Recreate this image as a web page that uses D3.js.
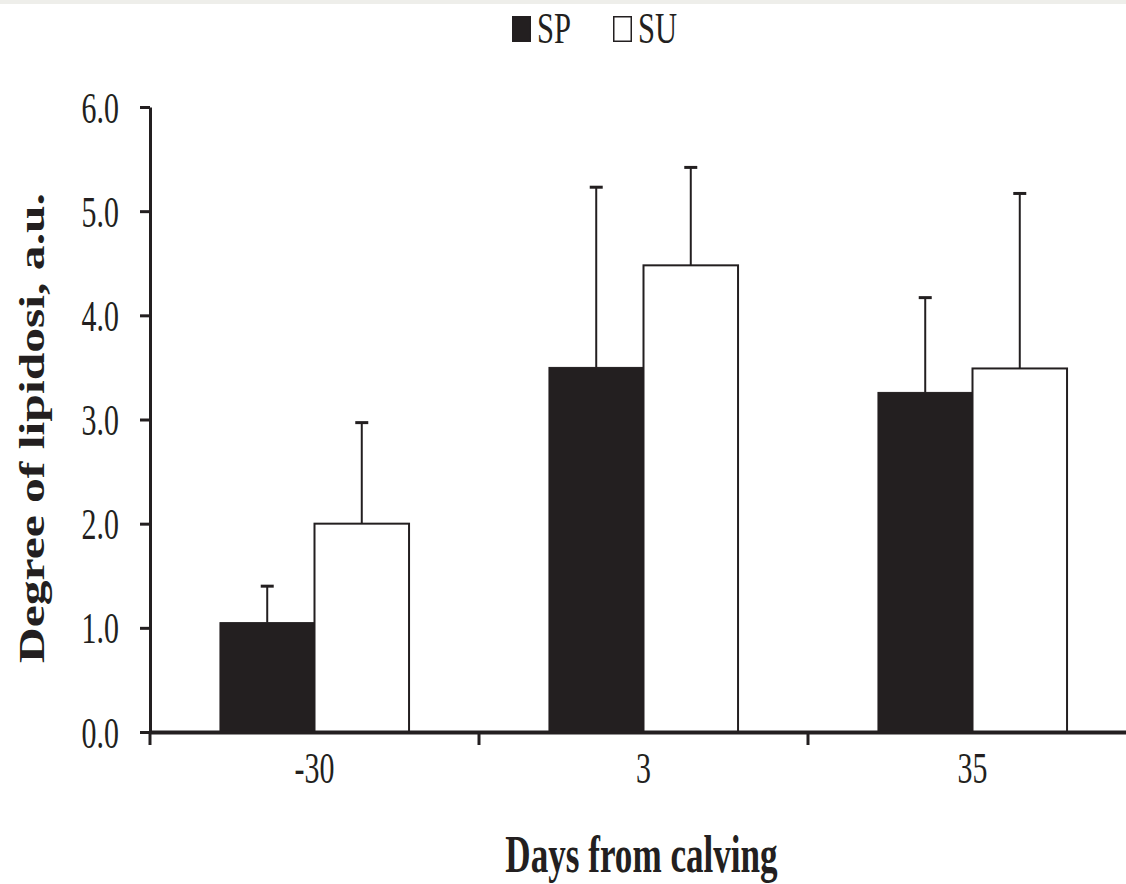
<!DOCTYPE html>
<html>
<head>
<meta charset="utf-8">
<script src="https://cdn.jsdelivr.net/npm/d3@7"></script>
<style>
  body { margin: 0; background: #fff; }
  svg { display: block; }
</style>
</head>
<body>
<svg id="chart" width="1126" height="884"></svg>
<script>
// Degree of hepatic lipidosis by days from calving, two groups (SP, SU)
const categories = ["-30", "3", "35"];
const seriesNames = ["SP", "SU"];
const spValues = [1.05, 3.50, 3.26];
const spErrors = [0.35, 1.73, 0.91];
const suValues = [2.00, 4.48, 3.49];
const suErrors = [0.97, 0.94, 1.68];
const yTickValues = [0, 1, 2, 3, 4, 5, 6];

const ink = "#231f20";
const serif = "'Liberation Serif', 'DejaVu Serif', serif";
const narrow = 0.68; // horizontal squeeze for the condensed serif lettering

const svg = d3.select("#chart");

// thin grey strip along the top edge
svg.append("rect")
  .attr("x", 0).attr("y", 0).attr("width", 1126).attr("height", 4)
  .attr("fill", "#eeeeea");

const x = d3.scaleBand().domain(categories).range([150, 1137]);
const xs = d3.scaleBand().domain(seriesNames).range([0, x.bandwidth()]).paddingOuter(0.74);
const y = d3.scaleLinear().domain([0, 6]).range([732, 107]);

const rows = categories.flatMap((c, i) => [
  { cat: c, series: "SP", value: spValues[i], err: spErrors[i] },
  { cat: c, series: "SU", value: suValues[i], err: suErrors[i] }
]);

// bars
svg.append("g").selectAll("rect")
  .data(rows)
  .join("rect")
  .attr("x", d => x(d.cat) + xs(d.series))
  .attr("y", d => y(d.value))
  .attr("width", xs.bandwidth())
  .attr("height", d => y(0) - y(d.value))
  .attr("fill", d => d.series === "SP" ? ink : "#ffffff")
  .attr("stroke", ink)
  .attr("stroke-width", d => d.series === "SP" ? 1 : 2);

// upper error bars
const eb = svg.append("g").selectAll("g")
  .data(rows)
  .join("g")
  .attr("transform", d => `translate(${x(d.cat) + xs(d.series) + xs.bandwidth() / 2},0)`);
eb.append("line")
  .attr("x1", 0).attr("x2", 0)
  .attr("y1", d => y(d.value))
  .attr("y2", d => y(d.value + d.err))
  .attr("stroke", ink).attr("stroke-width", 2);
eb.append("line")
  .attr("x1", -6.5).attr("x2", 6.5)
  .attr("y1", d => y(d.value + d.err))
  .attr("y2", d => y(d.value + d.err))
  .attr("stroke", ink).attr("stroke-width", 3);

// y axis
const yAxis = svg.append("g")
  .attr("transform", "translate(150,0)")
  .call(d3.axisLeft(y).tickValues(yTickValues).tickFormat(d3.format(".1f"))
    .tickSizeInner(10).tickSizeOuter(0));
yAxis.select(".domain").attr("stroke", ink).attr("stroke-width", 3);
yAxis.selectAll(".tick line").attr("stroke", ink).attr("stroke-width", 3);
yAxis.selectAll(".tick text")
  .attr("x", -31 / narrow)
  .attr("dy", 15)
  .attr("transform", `scale(${narrow},1)`)
  .attr("fill", ink)
  .style("font-family", serif)
  .style("font-size", "44px");

// x axis: labels at band centres, tick marks at band boundaries
const xAxis = svg.append("g")
  .attr("transform", "translate(0,732)")
  .call(d3.axisBottom(x).tickSize(0).tickPadding(0));
xAxis.select(".domain").attr("stroke", ink).attr("stroke-width", 4);
xAxis.selectAll(".tick text")
  .attr("y", 51)
  .attr("dy", 0)
  .attr("transform", `scale(${narrow},1)`)
  .attr("fill", ink)
  .style("font-family", serif)
  .style("font-size", "44px");
xAxis.append("g").selectAll("line")
  .data(categories.map(c => x(c)).concat([x.range()[1]]))
  .join("line")
  .attr("x1", d => d).attr("x2", d => d)
  .attr("y1", 0).attr("y2", 13)
  .attr("stroke", ink).attr("stroke-width", 3);

// legend
const legendX = d3.scaleOrdinal().domain(seriesNames).range([512, 613]);
const lg = svg.append("g").selectAll("g")
  .data(seriesNames)
  .join("g")
  .attr("transform", d => `translate(${legendX(d)},16)`);
lg.append("rect")
  .attr("x", 0.75).attr("y", 0.75)
  .attr("width", 17.5).attr("height", 24.5)
  .attr("fill", d => d === "SP" ? ink : "#ffffff")
  .attr("stroke", ink).attr("stroke-width", 1.5);
lg.append("text")
  .attr("transform", `translate(25,27) scale(${narrow},1)`)
  .attr("fill", ink)
  .style("font-family", serif)
  .style("font-size", "45px")
  .text(d => d);

// axis titles
svg.append("text")
  .attr("transform", "translate(44,663) rotate(-90)")
  .attr("textLength", 470)
  .attr("lengthAdjust", "spacingAndGlyphs")
  .attr("fill", ink)
  .style("font-family", serif)
  .style("font-weight", "bold")
  .style("font-size", "35px")
  .text("Degree of lipidosi, a.u.");

svg.append("text")
  .attr("transform", "translate(641.5,872) scale(0.675,1)")
  .attr("text-anchor", "middle")
  .attr("fill", ink)
  .style("font-family", serif)
  .style("font-weight", "bold")
  .style("font-size", "52px")
  .text("Days from calving");
</script>
</body>
</html>
